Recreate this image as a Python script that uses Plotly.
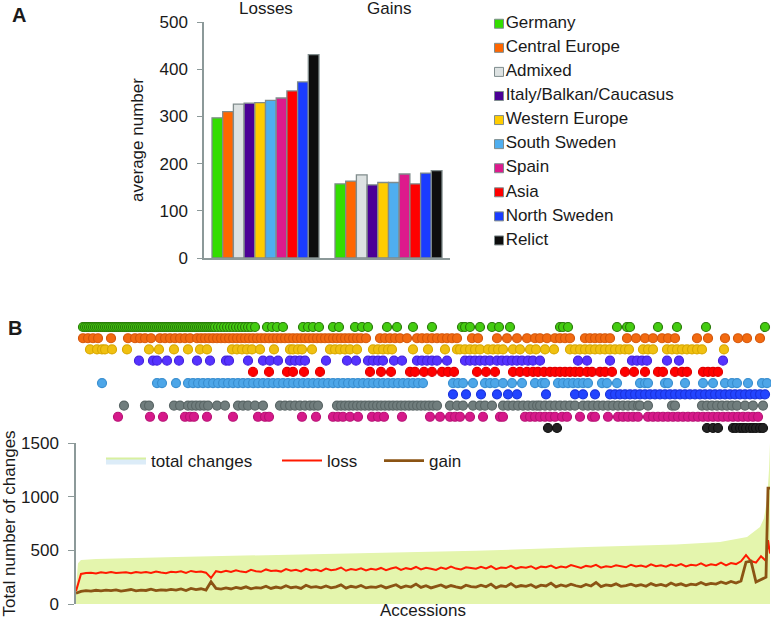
import plotly.graph_objects as go

FONT = "Liberation Sans, Arial, sans-serif"
TXT = "#1a1a1a"
AXC = "#8c9999"

# ---------------- Panel A data ----------------
regions = ["Germany", "Central Europe", "Admixed", "Italy/Balkan/Caucasus", "Western Europe",
           "South Sweden", "Spain", "Asia", "North Sweden", "Relict"]
bar_colors = ["#33dd00", "#ff6600", "#dde2e2", "#4b0096", "#ffcc00",
              "#4faeef", "#dd1a8c", "#ff0000", "#1a3cff", "#0d0d0d"]
groups = ["Losses", "Gains"]
avg_losses = [297, 310, 326, 328, 329, 334, 339, 354, 373, 431]
avg_gains = [157, 163, 176, 155, 160, 160, 178, 157, 180, 185]

# ---------------- Panel B dot strips (accession ranks) ----------------
strip_rows = ["Germany", "Central Europe", "Western Europe", "Italy/Balkan/Caucasus", "Asia",
              "South Sweden", "North Sweden", "Admixed", "Spain", "Relict"]
strip_fill = ["#44cc11", "#f26a10", "#f0c010", "#5533ff", "#ff0000",
              "#4da6e8", "#2244ff", "#707d7d", "#d6198a", "#222222"]
strip_edge = ["#2a7a0a", "#d4560a", "#d9a800", "#4422dd", "#e00000",
              "#3a8fd0", "#1a33dd", "#5a6666", "#b81275", "#111111"]

dots_germany = [7, 9, 11, 13, 15, 17, 19, 21, 23, 25, 27, 29, 31, 33, 35, 37, 39, 41, 43, 45, 47, 49, 51,
                53, 55, 57, 59, 61, 63, 65, 67, 69, 71, 73, 75, 77, 79, 81, 83, 85, 87, 89, 91, 93, 95, 97,
                99, 101, 103, 105, 107, 109, 111, 113, 115, 117, 119, 121, 123, 125, 127, 129, 131, 133,
                135, 137, 139, 142, 145, 148, 151, 154, 157, 160, 163, 166, 169, 172, 175, 179, 191, 196,
                201, 207, 227, 232, 237, 243, 257, 263, 279, 286, 292, 311, 321, 337, 356, 386, 389, 394,
                404, 416, 423, 434, 484, 487, 492, 541, 551, 554, 582, 601, 630, 689]
dots_central = [7, 12, 17, 22, 35, 52, 59, 64, 69, 75, 84, 89, 94, 99, 104, 109, 114, 121, 125, 129, 133,
                137, 141, 145, 149, 153, 157, 161, 165, 169, 173, 177, 181, 185, 189, 193, 197, 201, 205,
                209, 213, 217, 221, 225, 229, 233, 237, 241, 245, 249, 253, 257, 261, 265, 269, 273, 277,
                281, 285, 290, 304, 309, 314, 319, 324, 331, 341, 346, 351, 356, 361, 366, 371, 376, 381,
                396, 402, 421, 431, 441, 451, 459, 464, 471, 479, 484, 489, 494, 509, 514, 519, 524, 529,
                534, 551, 560, 569, 577, 586, 592, 599, 621, 632, 649, 662, 671, 684]
dots_western = [14, 21, 26, 29, 36, 51, 73, 83, 98, 112, 124, 131, 156, 161, 166, 171, 176, 184, 198, 214,
                217, 222, 226, 236, 254, 259, 264, 269, 274, 281, 297, 302, 307, 312, 316, 337, 352, 369,
                381, 384, 389, 394, 399, 404, 412, 417, 422, 427, 437, 444, 454, 460, 469, 478, 494, 499,
                504, 509, 514, 519, 524, 529, 534, 539, 544, 549, 553, 567, 572, 577, 591, 596, 601, 606,
                611, 616, 621, 626, 648]
dots_italy = [63, 77, 81, 91, 103, 121, 134, 150, 153, 172, 187, 194, 202, 214, 219, 224, 229, 250, 271,
              280, 292, 297, 302, 307, 318, 326, 341, 346, 351, 356, 361, 371, 389, 394, 399, 404, 409,
              414, 421, 426, 431, 436, 441, 446, 452, 457, 464, 502, 511, 534, 556, 561, 566, 571, 591,
              603, 647]
dots_asia = [177, 193, 211, 217, 228, 244, 294, 305, 315, 334, 339, 348, 356, 366, 372, 378, 401, 410, 419,
             437, 444, 451, 457, 462, 468, 474, 479, 484, 489, 494, 499, 504, 511, 516, 524, 529, 536, 549,
             558, 569, 582, 587, 599, 606, 611, 627, 632, 637, 642]
dots_south_sweden = [26, 81, 86, 100, 112, 117, 122, 127, 132, 137, 142, 147, 152, 157, 162, 167, 172, 177,
                     182, 187, 192, 197, 202, 207, 212, 217, 222, 227, 232, 237, 242, 247, 252, 257, 262,
                     267, 272, 277, 282, 287, 292, 297, 302, 307, 312, 317, 322, 327, 332, 337, 342, 347,
                     377, 382, 387, 397, 409, 414, 419, 427, 436, 446, 459, 466, 469, 482, 487, 492, 497,
                     502, 507, 512, 526, 531, 541, 564, 569, 572, 589, 592, 609, 627, 637, 649, 656, 661,
                     672, 686, 691]
dots_north_sweden = [377, 390, 405, 421, 432, 441, 470, 499, 507, 519, 534, 539, 544, 549, 554, 559, 564,
                     569, 574, 579, 584, 589, 594, 599, 604, 609, 614, 619, 624, 629, 634, 639, 644, 649,
                     654, 659, 664, 669, 674, 679, 684, 689]
dots_admixed = [48, 69, 73, 98, 104, 112, 116, 120, 124, 128, 132, 141, 149, 162, 167, 172, 179, 187, 204,
                209, 214, 219, 224, 229, 234, 238, 242, 261, 265, 269, 273, 277, 281, 285, 289, 293, 297,
                301, 305, 309, 313, 317, 321, 325, 329, 333, 337, 341, 345, 349, 353, 357, 361, 374, 381,
                387, 397, 404, 409, 416, 427, 432, 437, 442, 447, 452, 457, 461, 464, 469, 474, 479, 484,
                489, 494, 499, 507, 512, 517, 522, 527, 532, 537, 542, 547, 552, 557, 562, 564, 572, 596,
                599, 626, 631, 636, 641, 646, 651, 656, 661, 669, 677, 687]
dots_spain = [42, 74, 87, 109, 114, 118, 131, 157, 182, 189, 193, 226, 240, 257, 262, 267, 274, 282, 296,
              302, 308, 326, 354, 364, 374, 379, 384, 394, 407, 424, 427, 449, 454, 459, 464, 469, 474,
              479, 486, 491, 504, 516, 519, 532, 542, 547, 552, 557, 562, 572, 577, 582, 587, 592, 597,
              602, 607, 612, 617, 622, 627, 632, 637, 642, 647, 652, 657, 662, 667, 672, 677, 682]
dots_relict = [472, 481, 631, 637, 642, 657, 660, 664, 667, 670, 674, 677, 680, 684, 687]

strip_dots = [dots_germany, dots_central, dots_western, dots_italy, dots_asia,
              dots_south_sweden, dots_north_sweden, dots_admixed, dots_spain, dots_relict]

# ---------------- Panel B lines ----------------
accession_rank = list(range(0, 691, 5)) + [692, 694]
loss_changes = [120, 280, 288, 292, 285, 295, 290, 298, 288, 294,
                296, 287, 299, 291, 297, 289, 302, 293, 286, 300,
                295, 305, 290, 308, 298, 303, 292, 242, 306, 296,
                310, 298, 315, 302, 296, 318, 305, 300, 322, 308,
                312, 302, 325, 310, 318, 304, 328, 312, 320, 306,
                330, 314, 322, 340, 310, 326, 318, 332, 312, 328,
                320, 336, 315, 330, 342, 318, 334, 325, 345, 322,
                338, 328, 318, 340, 326, 348, 330, 322, 342, 335,
                328, 346, 332, 352, 325, 340, 335, 356, 330, 344,
                338, 352, 328, 348, 342, 358, 334, 350, 340, 362,
                345, 335, 355, 348, 365, 338, 352, 344, 360, 350,
                342, 366, 350, 358, 345, 370, 352, 360, 348, 368,
                355, 372, 350, 365, 358, 378, 355, 370, 362, 385,
                360, 382, 372, 398, 456, 400, 385, 445, 400, 596, 470]
gain_changes = [100, 118, 125, 120, 128, 122, 130, 124, 132, 120,
                127, 135, 122, 130, 126, 138, 125, 132, 128, 136,
                130, 140, 126, 145, 135, 142, 130, 208, 145, 138,
                150, 140, 155, 145, 160, 142, 152, 148, 165, 145,
                158, 148, 170, 152, 160, 145, 175, 155, 162, 150,
                168, 150, 160, 178, 148, 165, 155, 172, 150, 160,
                155, 170, 150, 165, 180, 152, 168, 158, 185, 155,
                170, 150, 165, 178, 155, 172, 160, 150, 175, 162,
                158, 175, 160, 185, 150, 170, 162, 190, 158, 172,
                165, 180, 155, 175, 168, 195, 160, 178, 165, 185,
                170, 160, 182, 168, 200, 162, 178, 170, 188, 165,
                172, 185, 168, 180, 165, 190, 172, 182, 168, 195,
                175, 188, 170, 185, 178, 200, 180, 192, 185, 205,
                190, 210, 195, 215, 390, 400, 205, 230, 250, 1080, 1080]
total_rank = [0, 2, 5, 20, 100, 200, 344, 400, 511, 600, 644, 671, 684, 688, 691, 693, 694]
total_changes = [150, 380, 410, 420, 438, 455, 485, 495, 531, 555, 578, 624, 717, 800, 969, 1250, 1500]

fig = go.Figure()

# Panel A bars
for i, r in enumerate(regions):
    fig.add_trace(go.Bar(x=groups, y=[avg_losses[i], avg_gains[i]], name=r,
                         marker=dict(color=bar_colors[i], line=dict(color="#808c8c", width=1.3)),
                         showlegend=False, xaxis="x", yaxis="y"))

# Panel A legend (key drawn on its own axis)
fig.add_trace(go.Scatter(x=[0] * len(regions), y=list(range(len(regions))), mode="markers+text",
                         text=regions, textposition="middle right",
                         textfont=dict(size=17, color=TXT, family=FONT),
                         marker=dict(symbol="square", size=9, color=bar_colors,
                                     line=dict(color="#7f8c8d", width=1)),
                         showlegend=False, hoverinfo="skip", cliponaxis=False,
                         xaxis="x4", yaxis="y4"))

# Panel B strips
for i, r in enumerate(strip_rows):
    fig.add_trace(go.Scatter(x=strip_dots[i], y=[i] * len(strip_dots[i]), mode="markers",
                             marker=dict(size=9, color=strip_fill[i],
                                         line=dict(color=strip_edge[i], width=1.2)),
                             name=r, showlegend=False, xaxis="x2", yaxis="y2", cliponaxis=False))

# Panel B lines
fig.add_trace(go.Scatter(x=total_rank, y=total_changes, fill="tozeroy", mode="lines",
                         line=dict(width=0, color="#e4f5ad"), fillcolor="#e4f5ad",
                         showlegend=False, xaxis="x3", yaxis="y3"))
fig.add_trace(go.Scatter(x=[None], y=[None], fill="toself", mode="lines", name="total changes",
                         fillcolor="#dcecf8", line=dict(color="#d8f0a0", width=2),
                         legend="legend2", xaxis="x3", yaxis="y3"))
fig.add_trace(go.Scatter(x=accession_rank, y=loss_changes, mode="lines", name="loss",
                         line=dict(color="#ff1a00", width=2), legend="legend3",
                         xaxis="x3", yaxis="y3"))
fig.add_trace(go.Scatter(x=accession_rank, y=gain_changes, mode="lines", name="gain",
                         line=dict(color="#8b5414", width=2.8), legend="legend4",
                         xaxis="x3", yaxis="y3"))

W, H = 771, 620
def px(xp):
    return xp / W
def py(yp):
    return 1 - yp / H

leg_common = dict(orientation="h", y=py(461), xanchor="left", yanchor="middle",
                  bgcolor="rgba(0,0,0,0)", font=dict(size=17, color=TXT), itemwidth=40)

fig.update_layout(
    width=W, height=H, margin=dict(l=0, r=0, t=0, b=0),
    paper_bgcolor="white", plot_bgcolor="white",
    font=dict(family=FONT, size=17, color=TXT),
    barmode="group", bargap=0.13, bargroupgap=0,
    xaxis=dict(domain=[px(204), px(450)], anchor="y", type="category", showline=True, linecolor=AXC,
               linewidth=1.5, ticks="", showticklabels=False, fixedrange=True),
    yaxis=dict(domain=[py(258), py(22)], anchor="x", range=[0, 500], showline=True, linecolor=AXC,
               linewidth=1.5, ticks="outside", ticklen=5, tickcolor=AXC, dtick=100,
               showgrid=False, zeroline=False, ticklabelstandoff=6, automargin=False,
               title=dict(text="average number", standoff=12, font=dict(size=17))),
    xaxis4=dict(domain=[px(494), 1.0], anchor="y4", range=[-5, 272], visible=False),
    yaxis4=dict(domain=[py(252.5), py(11.7)], anchor="x4", range=[9.5, -0.5], visible=False),
    xaxis2=dict(domain=[px(76), px(770)], anchor="y2", range=[0, 694], visible=False),
    yaxis2=dict(domain=[py(433.6), py(321.4)], anchor="x2", range=[9.5, -0.5], visible=False),
    xaxis3=dict(domain=[px(76), px(770)], anchor="y3", range=[0, 694], showline=False, ticks="",
                showticklabels=False, showgrid=False, zeroline=False, automargin=False,
                title=dict(text="Accessions", standoff=0, font=dict(size=17))),
    yaxis3=dict(domain=[py(604), py(443)], anchor="x3", range=[0, 1500], showline=True, linecolor=AXC,
                linewidth=1.5, ticks="outside", ticklen=6, tickcolor=AXC,
                tickvals=[0, 500, 1000, 1500], showgrid=False, zeroline=False,
                ticklabelstandoff=6, automargin=False,
                title=dict(text="Total number of changes", standoff=4, font=dict(size=17))),
    legend2=dict(x=px(101), **leg_common),
    legend3=dict(x=px(277), **leg_common),
    legend4=dict(x=px(379), **leg_common),
    annotations=[
        dict(text="<b>A</b>", x=px(19), y=py(14.5), xref="paper", yref="paper",
             xanchor="center", yanchor="middle",
             showarrow=False, font=dict(size=20, color=TXT)),
        dict(text="<b>B</b>", x=px(15), y=py(328), xref="paper", yref="paper",
             xanchor="center", yanchor="middle",
             showarrow=False, font=dict(size=20, color=TXT)),
        dict(text="Losses", x="Losses", xref="x", y=1, yref="y domain", yanchor="bottom",
             showarrow=False, yshift=2, font=dict(size=17, color=TXT)),
        dict(text="Gains", x="Gains", xref="x", y=1, yref="y domain", yanchor="bottom",
             showarrow=False, yshift=2, font=dict(size=17, color=TXT)),
    ],
)

fig.write_html("out.html", config={"displayModeBar": False},
               post_script="document.body.style.margin='0';")
